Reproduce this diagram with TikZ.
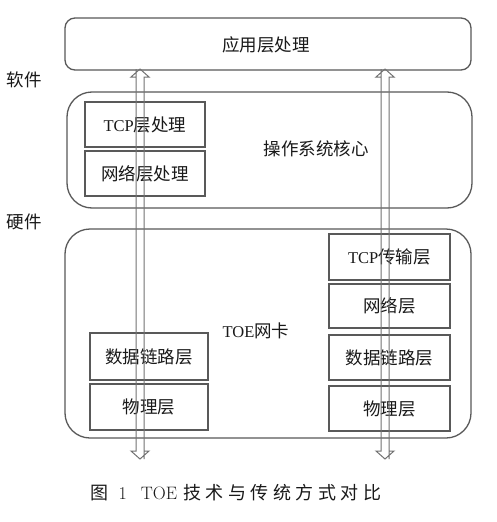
\documentclass[tikz,border=0pt]{standalone}
\usepackage{fontspec}
\setmainfont{Liberation Serif}
\newfontfamily\cjk{Noto Sans CJK SC}
\newfontfamily\lmr{Latin Modern Roman}
\usetikzlibrary{calc}
\newcommand{\hollowarrow}[2]{%
  \draw[hollow] (#1) -- ++(9,8) -- ++(-5,0) coordinate (tmpa) -- (tmpa |- #2) -- ++(0,-8) -- ++(5,0) -- (#2)
    -- ++(-9,-8) -- ++(5,0) coordinate (tmpb) -- (tmpb |- #1) -- ++(0,8) -- ++(-5,0) -- cycle;}
\newcommand{\lat}[1]{{\fontsize{16.5}{18}\selectfont #1}}
\begin{document}
\begin{tikzpicture}[x=1pt,y=-1pt,
  every node/.style={font=\fontsize{17.5}{20}\selectfont, text=black!90},
  panel/.style={draw=black!65, line width=1.3pt, rounded corners=25pt, inner sep=0pt},
  layerbox/.style={draw=black!65, line width=1.3pt, inner sep=0pt},
  hollow/.style={draw=black!55, line width=1pt, line join=miter}]
\useasboundingbox (0,0) rectangle (496,522);
\fill[white] (0,0) rectangle (496,522);

% panels
\node[panel, rounded corners=10pt, minimum width=406pt, minimum height=52pt] (app) at (268,44) {};
\node (applabel) at (266,45) {\cjk 应用层处理};
\node[panel, minimum width=405pt, minimum height=116pt] (os) at (269.5,150) {};
\node[panel, minimum width=406pt, minimum height=209pt] (nic) at (268,333.5) {};

\node (oslabel) at (316,149) {\cjk 操作系统核心};
\node (toelabel) at (256,331) {\lat{TOE}{\cjk 网卡}};

% side labels
\node (sw) at (24,80) {\cjk 软件};
\node (hw) at (24,222) {\cjk 硬件};

% OS layers
\node[layerbox, minimum width=120pt, minimum height=45pt] (tcpp) at (145,124.5) {\lat{TCP}{\cjk 层处理}};
\node[layerbox, minimum width=120pt, minimum height=45pt] (netp) at (145,173.5) {\cjk 网络层处理};

% left NIC layers
\node[layerbox, minimum width=118pt, minimum height=47pt] (ldl) at (149,356.5) {\cjk 数据链路层};
\node[layerbox, minimum width=118pt, minimum height=46pt] (lphy) at (149,407) {\cjk 物理层};

% right NIC layers
\node[layerbox, minimum width=121pt, minimum height=46pt] (rtcp) at (389.5,257) {\lat{TCP}{\cjk 传输层}};
\node[layerbox, minimum width=121pt, minimum height=44pt] (rnet) at (389.5,306) {\cjk 网络层};
\node[layerbox, minimum width=121pt, minimum height=45pt] (rdl) at (389.5,357.5) {\cjk 数据链路层};
\node[layerbox, minimum width=121pt, minimum height=45pt] (rphy) at (389.5,408.5) {\cjk 物理层};

% arrows
\coordinate (lt) at (140,69);
\coordinate (lb) at (140,459);
\coordinate (rt) at (385,69);
\coordinate (rb) at (385,459);
\hollowarrow{lt}{lb}
\hollowarrow{rt}{rb}

% caption
\node[font=\fontsize{18}{20}\selectfont] (cap) at (236,493)
  {{\cjk 图}\hspace{10pt}{\lmr 1}\hspace{14pt}{\lmr TOE}\hspace{6pt}{\cjk 技\hspace{4.5pt}术\hspace{4.5pt}与\hspace{4.5pt}传\hspace{4.5pt}统\hspace{4.5pt}方\hspace{4.5pt}式\hspace{4.5pt}对\hspace{4.5pt}比}};
\end{tikzpicture}
\end{document}
